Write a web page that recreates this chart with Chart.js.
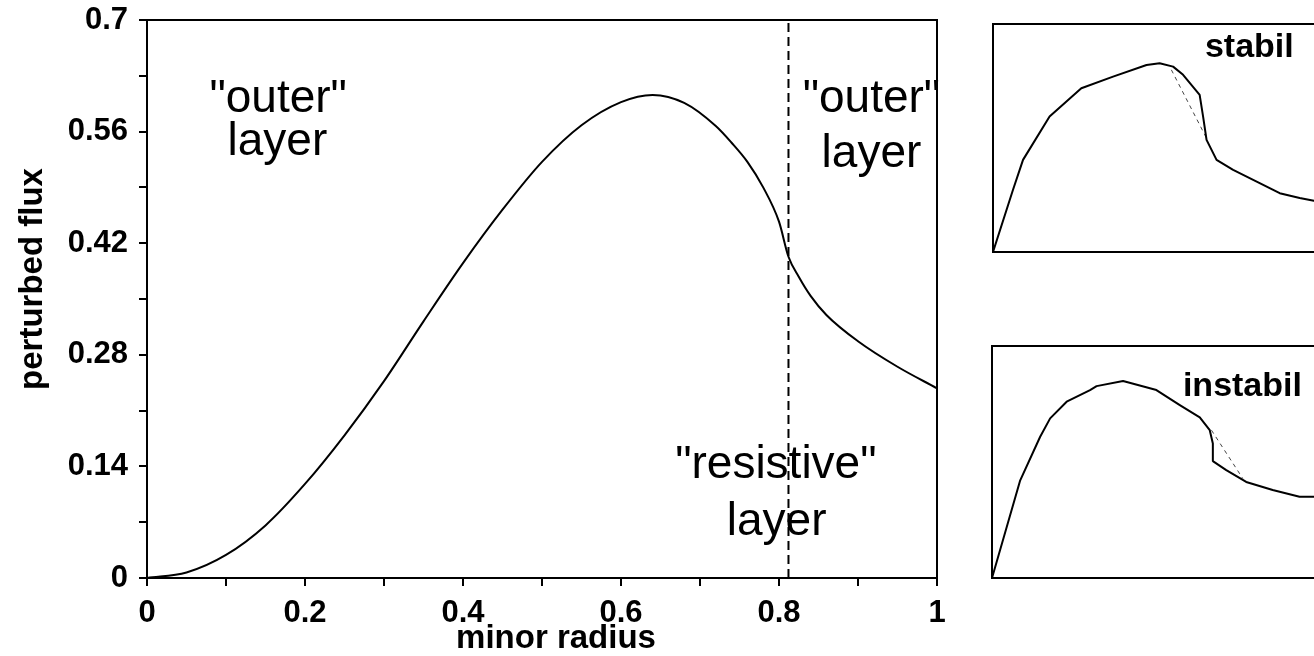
<!DOCTYPE html>
<html>
<head>
<meta charset="utf-8">
<script src="https://cdn.jsdelivr.net/npm/chart.js@4.4.0/dist/chart.umd.min.js"></script>
<style>
html, body { margin: 0; padding: 0; background: #fff; overflow: hidden; }
#wrap { position: relative; width: 1314px; height: 656px; overflow: hidden; }
#wrap canvas { position: absolute; }
</style>
</head>
<body>
<div id="wrap">
  <canvas id="mainChart" width="1314" height="656" style="left:0;top:0"></canvas>
  <canvas id="stabilChart" width="360" height="240" style="left:990px;top:20px"></canvas>
  <canvas id="instabilChart" width="360" height="240" style="left:988px;top:342px"></canvas>
</div>
<script>
// main curve: perturbed flux vs minor radius
var radius = [0, 0.05, 0.1, 0.15, 0.2, 0.25, 0.3, 0.35, 0.4, 0.45, 0.5, 0.55, 0.6, 0.64, 0.68, 0.72, 0.74, 0.76, 0.78, 0.8, 0.812, 0.825, 0.84, 0.86, 0.9, 0.95, 1.0];
var flux   = [0, 0.007, 0.029, 0.066, 0.118, 0.179, 0.247, 0.322, 0.395, 0.462, 0.522, 0.568, 0.597, 0.606, 0.596, 0.567, 0.546, 0.522, 0.49, 0.447, 0.403, 0.378, 0.354, 0.33, 0.297, 0.265, 0.238];
var resistiveR = 0.812;

var xTicks = [0, 0.1, 0.2, 0.3, 0.4, 0.5, 0.6, 0.7, 0.8, 0.9, 1];
var xTickLabels = ["0", "", "0.2", "", "0.4", "", "0.6", "", "0.8", "", "1"];
var yTicks = [0, 0.07, 0.14, 0.21, 0.28, 0.35, 0.42, 0.49, 0.56, 0.63, 0.7];
var yTickLabels = ["0", "", "0.14", "", "0.28", "", "0.42", "", "0.56", "", "0.7"];

// text inside the main plot
var noteText = ['"outer"', "layer", '"outer"', "layer", '"resistive"', "layer"];
var noteR    = [0.166, 0.165, 0.917, 0.917, 0.796, 0.797];
var noteFlux = [0.585, 0.531, 0.585, 0.516, 0.1255, 0.054];

// small sketches (relative units)
var stabilX = [0, 0.058, 0.087, 0.164, 0.256, 0.348, 0.445, 0.483, 0.522, 0.551, 0.599, 0.609, 0.619, 0.648, 0.696, 0.773, 0.831, 0.889, 0.93, 1.0];
var stabilY = [0, 0.273, 0.404, 0.594, 0.718, 0.769, 0.82, 0.828, 0.813, 0.777, 0.689, 0.594, 0.492, 0.404, 0.36, 0.302, 0.258, 0.237, 0.225, 0.207];
var stabilDashX = [0.517, 0.619];
var stabilDashY = [0.799, 0.499];

var instabilX = [0, 0.082, 0.14, 0.169, 0.217, 0.285, 0.304, 0.381, 0.478, 0.546, 0.604, 0.633, 0.642, 0.642, 0.681, 0.739, 0.816, 0.894, 0.935, 1.0];
var instabilY = [0, 0.421, 0.609, 0.688, 0.76, 0.81, 0.827, 0.849, 0.81, 0.745, 0.692, 0.637, 0.58, 0.504, 0.465, 0.414, 0.379, 0.35, 0.35, 0.348];
var instabilDashX = [0.638, 0.729];
var instabilDashY = [0.637, 0.429];

var FONT = "'Liberation Sans', Arial, sans-serif";

function toPoints(xs, ys) {
    return xs.map(function (x, i) { return { x: x, y: ys[i] }; });
}

var frameBox = {
    id: "frameBox",
    afterDraw: function (chart) {
        var a = chart.chartArea, c = chart.ctx;
        c.save();
        c.strokeStyle = "#000";
        c.lineWidth = 2;
        c.strokeRect(a.left, a.top, a.right - a.left, a.bottom - a.top);
        c.restore();
    }
};

var mainText = {
    id: "mainText",
    afterDraw: function (chart) {
        var c = chart.ctx, xs = chart.scales.x, ys = chart.scales.y;
        c.save();
        c.fillStyle = "#000";
        c.textAlign = "center";
        c.textBaseline = "alphabetic";
        c.font = "46px " + FONT;
        for (var i = 0; i < noteText.length; i++) {
            c.fillText(noteText[i], xs.getPixelForValue(noteR[i]), ys.getPixelForValue(noteFlux[i]));
        }
        // axis titles
        c.font = "bold 33px " + FONT;
        c.textBaseline = "middle";
        c.fillText("minor radius", 556, 639);
        c.translate(33, 279);
        c.rotate(-Math.PI / 2);
        c.fillText("perturbed flux", 0, 0);
        c.restore();
    }
};

var axisLook = {
    grid: { drawOnChartArea: false, drawTicks: true, tickLength: 8, color: "#000", lineWidth: 2 },
    border: { color: "#000", width: 2 }
};

var mainChart = new Chart(document.getElementById("mainChart").getContext("2d"), {
    type: "line",
    data: {
        datasets: [
            {
                data: toPoints(radius, flux),
                borderColor: "#000",
                borderWidth: 2,
                pointRadius: 0,
                cubicInterpolationMode: "monotone"
            },
            {
                data: toPoints([resistiveR, resistiveR], [0, 0.7]),
                borderColor: "#000",
                borderWidth: 2,
                borderDash: [9, 5],
                pointRadius: 0
            }
        ]
    },
    options: {
        responsive: false,
        animation: false,
        layout: { padding: { top: 20, right: 377, left: 0, bottom: 0 } },
        plugins: { legend: { display: false }, tooltip: { enabled: false } },
        scales: {
            x: {
                type: "linear",
                min: 0,
                max: 1,
                afterBuildTicks: function (s) { s.ticks = xTicks.map(function (v) { return { value: v }; }); },
                afterFit: function (s) { s.height = 78; s.paddingLeft = 0; s.paddingRight = 0; },
                ticks: {
                    autoSkip: false,
                    maxRotation: 0,
                    padding: 9,
                    color: "#000",
                    font: { family: FONT, size: 31, weight: "bold" },
                    callback: function (v, i) { return xTickLabels[i]; }
                },
                grid: axisLook.grid,
                border: axisLook.border
            },
            y: {
                type: "linear",
                min: 0,
                max: 0.7,
                afterBuildTicks: function (s) { s.ticks = yTicks.map(function (v) { return { value: v }; }); },
                afterFit: function (s) { s.width = 147; s.paddingTop = 0; s.paddingBottom = 0; },
                ticks: {
                    autoSkip: false,
                    padding: 11,
                    color: "#000",
                    font: { family: FONT, size: 31, weight: "bold" },
                    callback: function (v, i) { return yTickLabels[i]; }
                },
                grid: axisLook.grid,
                border: axisLook.border
            }
        }
    },
    plugins: [frameBox, mainText]
});

function makeInset(id, xs, ys, dxs, dys, label, labelX, labelY, pad) {
    var insetLabel = {
        id: "insetLabel",
        afterDraw: function (chart) {
            var c = chart.ctx;
            c.save();
            c.fillStyle = "#000";
            c.font = "bold 34px " + FONT;
            c.textAlign = "center";
            c.textBaseline = "alphabetic";
            c.fillText(label, chart.scales.x.getPixelForValue(labelX), chart.scales.y.getPixelForValue(labelY));
            c.restore();
        }
    };
    return new Chart(document.getElementById(id).getContext("2d"), {
        type: "line",
        data: {
            datasets: [
                { data: toPoints(xs, ys), borderColor: "#000", borderWidth: 2, borderJoinStyle: "round", pointRadius: 0, tension: 0 },
                { data: toPoints(dxs, dys), borderColor: "#444", borderWidth: 1, borderDash: [4, 4], pointRadius: 0 }
            ]
        },
        options: {
            responsive: false,
            animation: false,
            layout: { padding: pad },
            plugins: { legend: { display: false }, tooltip: { enabled: false } },
            scales: {
                x: { type: "linear", min: 0, max: 1, display: false },
                y: { type: "linear", min: 0, max: 1, display: false }
            }
        },
        plugins: [frameBox, insetLabel]
    });
}

var stabilChart = makeInset("stabilChart", stabilX, stabilY, stabilDashX, stabilDashY, "stabil", 0.743, 0.857,
    { left: 3, top: 4, right: 12, bottom: 8 });
var instabilChart = makeInset("instabilChart", instabilX, instabilY, instabilDashX, instabilDashY, "instabil", 0.728, 0.784,
    { left: 4, top: 4, right: 12, bottom: 4 });
</script>
</body>
</html>
